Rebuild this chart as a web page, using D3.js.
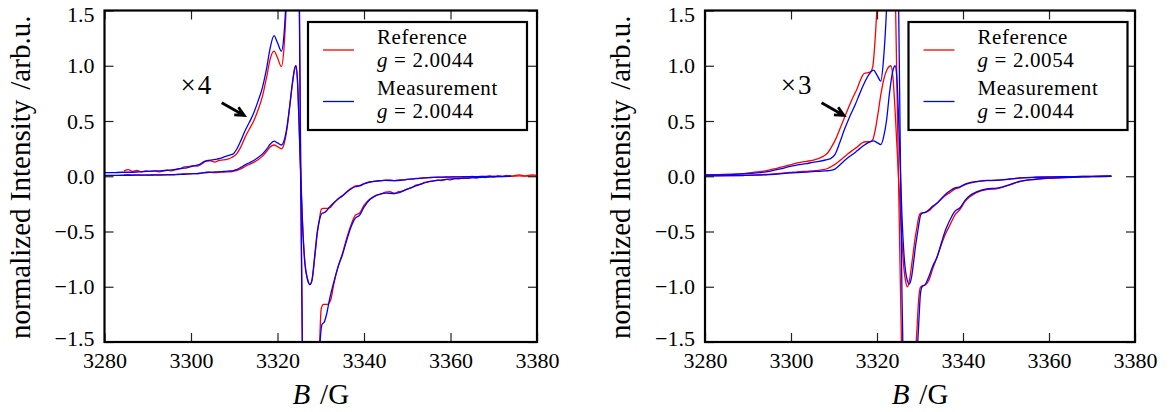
<!DOCTYPE html>
<html>
<head>
<meta charset="utf-8">
<script src="https://cdn.jsdelivr.net/npm/d3@7"></script>
<style>
body { margin: 0; background: #fff; }
svg text { font-family: 'Liberation Serif', 'Times New Roman', serif; fill: #000; }
.tick text { font-size: 22px; }
.tick line { stroke: #222; stroke-width: 1.2; }
.axlabel { font-size: 29px; }
.legtext { font-size: 21px; letter-spacing: 0.6px; }
.gain { font-size: 27px; }
</style>
</head>
<body>
<script>
// tick values
var xTicks = [3280, 3300, 3320, 3340, 3360, 3380];
var yTicks = [-1.5, -1.0, -0.5, 0.0, 0.5, 1.0, 1.5];

// legend entries
var seriesNames = ['Reference', 'Measurement'];
var leftG = ['2.0044', '2.0044'];
var rightG = ['2.0054', '2.0044'];
var gains = [4, 3];

// annotation anchor (B, intensity)
var gainLabelAt = [3297.6, 0.74];
var arrowFrom = [3307.1, 0.665];
var arrowTo = [3312.3, 0.55];

// left panel: reference spectrum [B, intensity]
var leftRef = [
  [3284.5, 0.012], [3285.5, 0.015], [3286.5, 0.011], [3287.5, 0.013], [3288.5, 0.010],
  [3289.5, 0.012], [3290.5, 0.011], [3291.5, 0.012], [3292.5, 0.010], [3293.5, 0.012],
  [3294.5, 0.014], [3295.5, 0.012], [3296.5, 0.015], [3297.5, 0.017], [3298.5, 0.021],
  [3299.5, 0.022], [3300.5, 0.024], [3301.5, 0.023], [3302.5, 0.028], [3303.5, 0.034],
  [3304.5, 0.035], [3305.5, 0.032], [3306.5, 0.036], [3307.5, 0.037], [3308.5, 0.039],
  [3309.5, 0.043], [3310.5, 0.05], [3311.5, 0.066], [3312.5, 0.088], [3313.5, 0.107],
  [3314.5, 0.125], [3315.5, 0.15], [3316.5, 0.18], [3317.5, 0.225], [3318.3, 0.265],
  [3319.2, 0.283], [3320.0, 0.268], [3320.9, 0.248], [3321.5, 0.29], [3322.2, 0.43],
  [3322.8, 0.62], [3323.4, 0.82], [3323.9, 0.96], [3324.25, 1.0], [3324.6, 0.88],
  [3325.0, 0.47], [3325.4, 0.0], [3325.8, -0.42], [3326.3, -0.76], [3326.9, -0.92],
  [3327.5, -0.98], [3328.0, -0.94], [3328.6, -0.74], [3329.2, -0.52], [3329.7, -0.39],
  [3330.1, -0.3], [3330.6, -0.29], [3331.5, -0.29], [3332.3, -0.28], [3333, -0.245],
  [3334, -0.205], [3335, -0.175], [3336, -0.14], [3337, -0.11], [3338, -0.088],
  [3339, -0.083], [3340, -0.066], [3341, -0.055], [3342, -0.048], [3343, -0.042],
  [3344, -0.04], [3345, -0.036], [3346, -0.035], [3347, -0.039], [3348, -0.035],
  [3349, -0.033], [3350, -0.029], [3351, -0.026], [3352, -0.02], [3353, -0.018],
  [3354, -0.014], [3355, -0.012], [3356, -0.011], [3357, -0.009], [3358, -0.01],
  [3359, -0.007], [3360, -0.008], [3361, -0.005], [3362, -0.006], [3363, -0.004],
  [3364, -0.005], [3365, -0.002], [3366, -0.004], [3367, -0.001], [3368, -0.003],
  [3369, 0.0], [3370, -0.002], [3371, 0.001], [3372, -0.001], [3373, 0.002],
  [3374, 0.0], [3375, 0.002], [3376, 0.003], [3377, 0.001], [3378, 0.002],
  [3379, 0.003], [3380, 0.002]
];

// left panel: measured spectrum
var leftMeas = [
  [3280, 0.008], [3282, 0.008], [3284, 0.009], [3286, 0.009], [3288, 0.010],
  [3290, 0.011], [3292, 0.012], [3294, 0.013], [3296, 0.015], [3298, 0.018],
  [3299, 0.019], [3300, 0.022], [3301, 0.024], [3302, 0.027], [3303, 0.033],
  [3304, 0.036], [3305, 0.037], [3306, 0.039], [3307, 0.041], [3308, 0.045],
  [3309, 0.048], [3309.8, 0.051], [3310.5, 0.06], [3311.5, 0.08], [3312.5, 0.103],
  [3313.5, 0.122], [3314.5, 0.143], [3315.5, 0.17], [3316.5, 0.2], [3317.5, 0.245],
  [3318.3, 0.29], [3319.2, 0.318], [3320.0, 0.302], [3320.9, 0.283], [3321.5, 0.32],
  [3322.2, 0.45], [3322.8, 0.63], [3323.4, 0.83], [3323.9, 0.96], [3324.25, 1.0],
  [3324.6, 0.88], [3325.0, 0.45], [3325.4, -0.05], [3325.8, -0.45], [3326.3, -0.78],
  [3326.9, -0.93], [3327.5, -0.98], [3328.0, -0.93], [3328.6, -0.72], [3329.2, -0.5],
  [3329.8, -0.38], [3330.3, -0.335], [3330.8, -0.33], [3331.4, -0.31], [3332.0, -0.28],
  [3333.0, -0.24], [3334.0, -0.205], [3335.0, -0.178], [3336.0, -0.145], [3337.0, -0.115],
  [3338.0, -0.095], [3339.0, -0.088], [3340.0, -0.07], [3341.4, -0.052], [3343, -0.043],
  [3345, -0.038], [3347, -0.039], [3348.5, -0.036], [3350, -0.029], [3352, -0.022],
  [3355, -0.012], [3358, -0.008], [3362, -0.005], [3366, -0.003], [3370, -0.0015],
  [3374, 0]
];

// right panel: reference spectrum
var rightRef = [
  [3280, 0.004], [3283, 0.005], [3286, 0.006], [3289, 0.008], [3292, 0.013],
  [3294, 0.016], [3296, 0.022], [3298, 0.028], [3299.8, 0.034], [3301.5, 0.04],
  [3303.6, 0.045], [3305, 0.048], [3306.5, 0.054], [3307.5, 0.06], [3308.5, 0.07],
  [3309.5, 0.09], [3310.5, 0.115], [3311.6, 0.15], [3313, 0.195], [3314.2, 0.232],
  [3315.4, 0.265], [3316.3, 0.295], [3317, 0.31], [3318.4, 0.314], [3319.0, 0.33],
  [3319.6, 0.42], [3320.2, 0.56], [3320.9, 0.74], [3321.6, 0.88], [3322.4, 0.97],
  [3323.2, 1.0], [3323.7, 0.9], [3324.2, 0.6], [3324.6, 0.3], [3325.0, 0.0],
  [3325.4, -0.3], [3325.8, -0.58], [3326.3, -0.85], [3326.7, -0.96], [3327.1, -1.0],
  [3327.6, -0.93], [3328.0, -0.82], [3328.4, -0.7], [3328.9, -0.55], [3329.3, -0.46],
  [3329.7, -0.37], [3330.1, -0.335], [3330.6, -0.33], [3331.2, -0.328], [3332, -0.315],
  [3333, -0.278], [3334, -0.242], [3335, -0.205], [3336, -0.172], [3337, -0.146],
  [3338.1, -0.117], [3339.3, -0.1], [3340.5, -0.076], [3341.6, -0.062], [3343, -0.05],
  [3345.5, -0.04], [3347.8, -0.038], [3350.9, -0.026], [3353.3, -0.016], [3357, -0.009],
  [3361, -0.006], [3366, -0.003], [3370, -0.001], [3374.5, 0]
];

// right panel: measured spectrum
var rightMeas = [
  [3280, 0.004], [3283, 0.004], [3286, 0.005], [3289, 0.007], [3292, 0.01],
  [3295, 0.015], [3297.5, 0.022], [3299.8, 0.03], [3301.5, 0.034], [3303.6, 0.038],
  [3305, 0.042], [3306.5, 0.045], [3308, 0.049], [3309.2, 0.053], [3310.2, 0.065],
  [3311.3, 0.1], [3312.4, 0.14], [3313.6, 0.178], [3315, 0.218], [3316, 0.25],
  [3317, 0.28], [3318.2, 0.308], [3319.2, 0.32], [3320.0, 0.305], [3320.9, 0.287],
  [3321.5, 0.35], [3322.2, 0.5], [3322.9, 0.75], [3323.6, 0.94], [3324.2, 1.0],
  [3324.6, 0.9], [3325.0, 0.55], [3325.4, 0.1], [3325.8, -0.35], [3326.3, -0.72],
  [3326.9, -0.92], [3327.5, -0.975], [3328.0, -0.92], [3328.5, -0.78], [3329.0, -0.62],
  [3329.4, -0.52], [3329.8, -0.42], [3330.1, -0.355], [3330.5, -0.333], [3331.2, -0.327],
  [3332, -0.305], [3333, -0.27], [3334, -0.243], [3335, -0.2], [3336, -0.16],
  [3337, -0.131], [3338.1, -0.106], [3339.3, -0.095], [3340.5, -0.072], [3341.6, -0.058],
  [3343, -0.048], [3345.5, -0.038], [3347.8, -0.036], [3350.9, -0.025], [3353.3, -0.015],
  [3357, -0.009], [3361, -0.005], [3366, -0.003], [3370, -0.001], [3374.5, 0]
];

var w = 1169, h = 412;
var plotTop = 10.5, plotBottom = 342;

var svg = d3.select('body')
    .append('svg')
    .attr('width', w)
    .attr('height', h);

function drawPanel(left, right, refData, measData, gVals, gain, id) {
    var x = d3.scaleLinear().domain([3280, 3380]).range([left, right]);
    var y = d3.scaleLinear().domain([-1.5, 1.5]).range([plotBottom, plotTop]);

    svg.append('clipPath')
        .attr('id', id)
        .append('rect')
        .attr('x', left)
        .attr('y', plotTop)
        .attr('width', right - left)
        .attr('height', plotBottom - plotTop);

    var plot = svg.append('g').attr('clip-path', 'url(#' + id + ')');

    function scaled(k) {
        return d3.line()
            .curve(d3.curveMonotoneX)
            .x(function(d) { return x(d[0]); })
            .y(function(d) { return y(d[1] * k); });
    }

    var curves = [
        {data: refData, k: 1, color: '#ff0000'},
        {data: refData, k: gain, color: '#ff0000'},
        {data: measData, k: 1, color: '#0000ff'},
        {data: measData, k: gain, color: '#0000ff'}
    ];

    plot.selectAll('.curve')
        .data(curves)
        .enter()
        .append('path')
        .attr('class', 'curve')
        .attr('d', function(d) { return scaled(d.k)(d.data); })
        .style('fill', 'none')
        .style('stroke', function(d) { return d.color; })
        .style('stroke-width', 1.3);

    // axes, ticks pointing inward
    var fmtY = d3.format('.1f');
    svg.append('g')
        .attr('transform', 'translate(0,' + plotBottom + ')')
        .call(d3.axisBottom(x).tickValues(xTicks).tickSize(-9).tickPadding(10).tickFormat(d3.format('d')))
        .call(function(g) { g.select('.domain').remove(); });
    svg.append('g')
        .attr('transform', 'translate(0,' + plotTop + ')')
        .call(d3.axisTop(x).tickValues(xTicks).tickSize(-9).tickFormat(''))
        .call(function(g) { g.select('.domain').remove(); });
    svg.append('g')
        .attr('transform', 'translate(' + left + ',0)')
        .call(d3.axisLeft(y).tickValues(yTicks).tickSize(-9).tickPadding(10).tickFormat(fmtY))
        .call(function(g) {
            g.select('.domain').remove();
            // end labels sit slightly inside the frame
            g.selectAll('.tick text')
                .attr('dy', function(d) { return d === 1.5 ? '0.5em' : (d === -1.5 ? '0.18em' : '0.32em'); });
        });
    svg.append('g')
        .attr('transform', 'translate(' + right + ',0)')
        .call(d3.axisRight(y).tickValues(yTicks).tickSize(-9).tickFormat(''))
        .call(function(g) { g.select('.domain').remove(); });

    svg.append('rect')
        .attr('x', left)
        .attr('y', plotTop)
        .attr('width', right - left)
        .attr('height', plotBottom - plotTop)
        .style('fill', 'none')
        .style('stroke', '#000')
        .style('stroke-width', 2.2);

    // axis labels
    var xl = svg.append('text')
        .attr('class', 'axlabel')
        .attr('text-anchor', 'middle')
        .attr('x', (left + right) / 2)
        .attr('y', 404);
    xl.append('tspan').style('font-style', 'italic').text('B');
    xl.append('tspan').attr('dx', 10).text('/G');

    var yl = svg.append('text')
        .attr('class', 'axlabel')
        .attr('text-anchor', 'middle')
        .attr('transform', 'translate(' + (left - 75) + ',' + ((plotTop + plotBottom) / 2 + 1) + ') rotate(-90)');
    yl.append('tspan').text('normalized Intensity');
    yl.append('tspan').attr('dx', 10).text('/arb.u.');

    // gain annotation
    var gt = svg.append('text')
        .attr('class', 'gain')
        .attr('x', x(gainLabelAt[0]))
        .attr('y', y(gainLabelAt[1]));
    gt.append('tspan').text('\u00d7');
    gt.append('tspan').attr('dx', 2).text(gain);

    var x0 = x(arrowFrom[0]), y0 = y(arrowFrom[1]);
    var x1 = x(arrowTo[0]), y1 = y(arrowTo[1]);
    var ang = Math.atan2(y1 - y0, x1 - x0);
    var hl = 10, spread = 0.45;
    svg.append('path')
        .attr('d', 'M' + x0 + ',' + y0 + 'L' + x1 + ',' + y1 +
            'M' + (x1 - hl * Math.cos(ang - spread)) + ',' + (y1 - hl * Math.sin(ang - spread)) +
            'L' + x1 + ',' + y1 +
            'L' + (x1 - hl * Math.cos(ang + spread)) + ',' + (y1 - hl * Math.sin(ang + spread)))
        .style('fill', 'none')
        .style('stroke', '#000')
        .style('stroke-width', 2.8);

    // legend
    var lx = left + 203.5, ly = 22;
    var leg = svg.append('g').attr('transform', 'translate(' + lx + ',' + ly + ')');
    leg.append('rect')
        .attr('width', 219)
        .attr('height', 108)
        .style('fill', '#fff')
        .style('stroke', '#000')
        .style('stroke-width', 2.2);

    var entries = leg.selectAll('.entry')
        .data(seriesNames)
        .enter()
        .append('g')
        .attr('class', 'entry')
        .attr('transform', function(d, i) { return 'translate(0,' + (i * 51.5) + ')'; });

    entries.append('line')
        .attr('x1', 15)
        .attr('x2', 46)
        .attr('y1', 28)
        .attr('y2', 28)
        .style('stroke', function(d, i) { return i === 0 ? '#ff0000' : '#0000ff'; })
        .style('stroke-width', 1.3);

    entries.append('text')
        .attr('class', 'legtext')
        .attr('x', 69)
        .attr('y', 21.5)
        .text(function(d) { return d; });

    var gl = entries.append('text')
        .attr('class', 'legtext')
        .attr('x', 69)
        .attr('y', 44.5);
    gl.append('tspan').style('font-style', 'italic').text('g');
    gl.append('tspan').attr('dx', 6).text('=');
    gl.append('tspan').attr('dx', 6).text(function(d, i) { return gVals[i]; });
}

drawPanel(104.5, 537, leftRef, leftMeas, leftG, gains[0], 'clipL');
drawPanel(705, 1135, rightRef, rightMeas, rightG, gains[1], 'clipR');
</script>
</body>
</html>
